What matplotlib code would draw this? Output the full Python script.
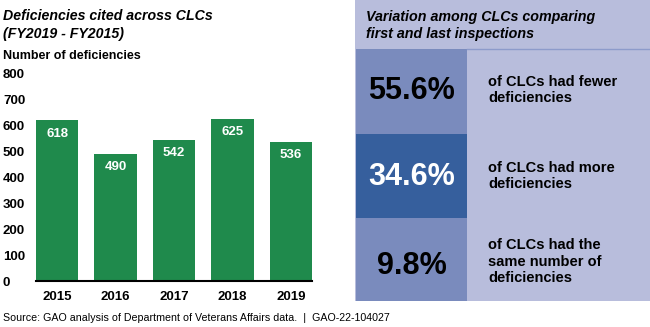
import matplotlib
matplotlib.use("Agg")
import matplotlib.pyplot as plt
from matplotlib.patches import Rectangle

plt.rcParams['font.family'] = ['Liberation Sans', 'DejaVu Sans']

years = ['2015', '2016', '2017', '2018', '2019']
deficiencies = [618, 490, 542, 625, 536]
y_ticks = [0, 100, 200, 300, 400, 500, 600, 700, 800]

shares = ['55.6%', '34.6%', '9.8%']
share_text = ['of CLCs had fewer\ndeficiencies',
              'of CLCs had more\ndeficiencies',
              'of CLCs had the\nsame number of\ndeficiencies']

green = '#1f8a4c'
light = '#b8bddc'
mid = '#7a8bbd'
dark = '#365f9d'

W, H = 650, 327
fig = plt.figure(figsize=(6.5, 3.27), dpi=100)


def fx(px):
    return px / W


def fy(py):
    return 1 - py / H


# left panel: bar chart
ax = fig.add_axes([fx(36), fy(281), fx(312 - 36), (281 - 73) / H])
x = range(len(years))
ax.bar(x, deficiencies, width=0.72, color=green)
ax.set_xlim(-0.36, len(years) - 1 + 0.36)
ax.set_ylim(0, 800)
ax.set_yticks(y_ticks)
ax.set_yticklabels([str(t) for t in y_ticks], ha='left', fontweight='bold', fontsize=9.5)
ax.tick_params(axis='y', length=0, pad=23.8)
ax.set_xticks(list(x))
ax.set_xticklabels(years, fontweight='bold', fontsize=9.5)
ax.tick_params(axis='x', length=0, pad=7.5)
for s in ['top', 'right', 'left']:
    ax.spines[s].set_visible(False)
ax.spines['bottom'].set_linewidth(1.5)
ax.spines['bottom'].set_color('black')
for i, v in enumerate(deficiencies):
    ax.annotate(str(v), (i, v), xytext=(0, -9.5), textcoords='offset points',
                ha='center', va='center', color='white', fontweight='bold', fontsize=9.5)

fig.text(fx(3), fy(16), 'Deficiencies cited across CLCs', fontsize=10.2, fontweight='bold',
         fontstyle='italic', va='center', ha='left')
fig.text(fx(3), fy(34), '(FY2019 - FY2015)', fontsize=10.2, fontweight='bold',
         fontstyle='italic', va='center', ha='left')
fig.text(fx(3), fy(56), 'Number of deficiencies', fontsize=9, fontweight='bold',
         va='center', ha='left')

# right panel
rx = fig.add_axes([fx(355), fy(301), fx(650 - 355), 301 / H])
rx.set_xlim(355, 650)
rx.set_ylim(301, 0)
rx.axis('off')
rx.add_patch(Rectangle((355, 0), 295, 301, color=light, lw=0))
rx.plot([467, 650], [49, 49], color='#8d9bcb', lw=1)
rx.text(366, 17, 'Variation among CLCs comparing', fontsize=10.3, fontweight='bold',
        fontstyle='italic', va='center', ha='left')
rx.text(366, 34, 'first and last inspections', fontsize=10.3, fontweight='bold',
        fontstyle='italic', va='center', ha='left')

box_tops = [49, 134, 218]
box_h = [85, 84, 83]
box_colors = [mid, dark, mid]
num_colors = ['black', 'white', 'black']
num_y = [91, 177, 266]
text_y = [82, 168, 245]
for i in range(3):
    rx.add_patch(Rectangle((356, box_tops[i]), 111, box_h[i], color=box_colors[i], lw=0))
    rx.text(411.5, num_y[i], shares[i], fontsize=22, fontweight='bold',
            color=num_colors[i], ha='center', va='center')
    for j, line in enumerate(share_text[i].split('\n')):
        rx.text(488, text_y[i] + 16.5 * j, line, fontsize=10.5, fontweight='bold',
                ha='left', va='center')

fig.text(fx(3), fy(318), 'Source: GAO analysis of Department of Veterans Affairs data.  |  GAO-22-104027',
         fontsize=7.65, va='center', ha='left')

fig.savefig('out.png', dpi=100)
